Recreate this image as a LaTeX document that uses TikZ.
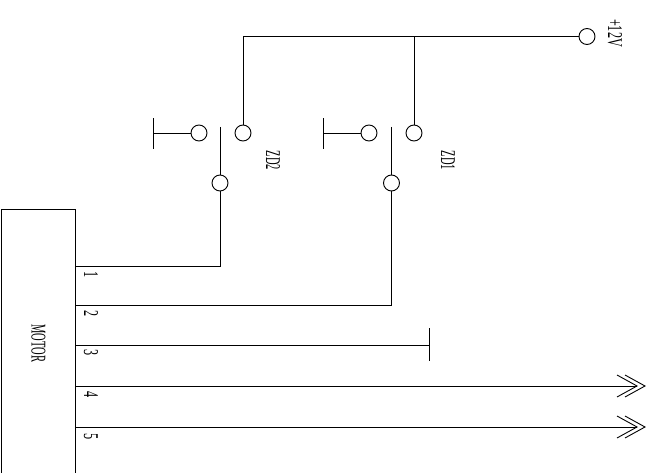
\documentclass[tikz,border=0pt]{standalone}
\usepackage{fontspec}
\newfontfamily\cadfont[FakeStretch=0.58]{Liberation Serif}
\newfontfamily\cadcaps[FakeStretch=0.5]{Liberation Serif}
\tikzset{
  wire/.style={line width=0.9pt},
  contact/.style={circle,draw,line width=0.9pt,inner sep=0pt,minimum size=16pt},
  cadtext/.style={rotate=-90,inner sep=0pt,font=\cadfont\fontsize{21}{21}\selectfont},
  cadname/.style={rotate=-90,inner sep=0pt,font=\cadcaps\fontsize{21}{21}\selectfont}
}

\begin{document}
\begin{tikzpicture}[x=1pt,y=-1pt]
\useasboundingbox (0,0) rectangle (651,473);

\coordinate (mbl) at (1,473);
\coordinate (mtl) at (1,209.5);
\coordinate (mtr) at (75,209.5);
\coordinate (mbr) at (75,473);
\draw[wire] (mbl)--(mtl)--(mtr)--(mbr);
\node [cadname] (motor) at (38.5,343.5) {MOTOR};

% supply
\node [contact] (vcc) at (587,36.5) {};
\node [cadtext] (vcclabel) at (615,33) {+12V};
\coordinate (zd2top) at (243,36.5);
\coordinate (zd1top) at (414,36.5);

% ZD2
\node [contact] (zd2a) at (243,133) {};
\node [contact] (zd2b) at (199,133) {};
\node [contact] (zd2c) at (220,183) {};
\coordinate (zd2arm) at (220,127);
\coordinate (zd2gnda) at (153,118.5);
\coordinate (zd2gndb) at (153,149);
\coordinate (zd2gnd) at (153,133);
\node [cadname] (zd2label) at (273,160.5) {ZD2};
\draw[wire] (vcc)--(zd2top)--(zd2a);
\draw[wire] (zd2b)--(zd2gnd);
\draw[wire] (zd2gnda)--(zd2gndb);
\draw[wire] (zd2arm)--(zd2c);

% ZD1
\node [contact] (zd1a) at (414,133) {};
\node [contact] (zd1b) at (369,133) {};
\node [contact] (zd1c) at (391.5,183) {};
\coordinate (zd1arm) at (391.5,127);
\coordinate (zd1gnda) at (323.5,118.5);
\coordinate (zd1gndb) at (323.5,149);
\coordinate (zd1gnd) at (323.5,133);
\node [cadname] (zd1label) at (448,160.5) {ZD1};
\draw[wire] (zd1top)--(zd1a);
\draw[wire] (zd1b)--(zd1gnd);
\draw[wire] (zd1gnda)--(zd1gndb);
\draw[wire] (zd1arm)--(zd1c);

% motor leads
\coordinate (pin1) at (75,266.5);
\coordinate (pin2) at (75,305);
\coordinate (pin3) at (75,345);
\coordinate (pin4) at (75,386);
\coordinate (pin5) at (75,427);
\draw[wire] (pin1)-|(zd2c);
\draw[wire] (pin2)-|(zd1c);

\coordinate (gnda) at (429,328);
\coordinate (gndb) at (429,361);
\coordinate (gnd) at (429,345);
\draw[wire] (pin3)--(gnd);
\draw[wire] (gnda)--(gndb);

\foreach \p/\y/\t in {4/386/a,5/427/b}{
  \coordinate (tip\t) at (637,\y);
  \coordinate (tipo\t) at (645,\y);
  \draw[wire] (pin\p)--(tip\t);
  \draw[wire] ([shift={(-20,-11)}]tip\t)--(tip\t)--([shift={(-20,11)}]tip\t);
  \draw[wire] ([shift={(-20,-11)}]tipo\t)--(tipo\t)--([shift={(-20,11)}]tipo\t);
}

\foreach \n/\y in {1/274.5,2/314,3/353,4/395,5/436.5}
  \node [cadtext] (num\n) at (91,\y) {\n};
\end{tikzpicture}
\end{document}
